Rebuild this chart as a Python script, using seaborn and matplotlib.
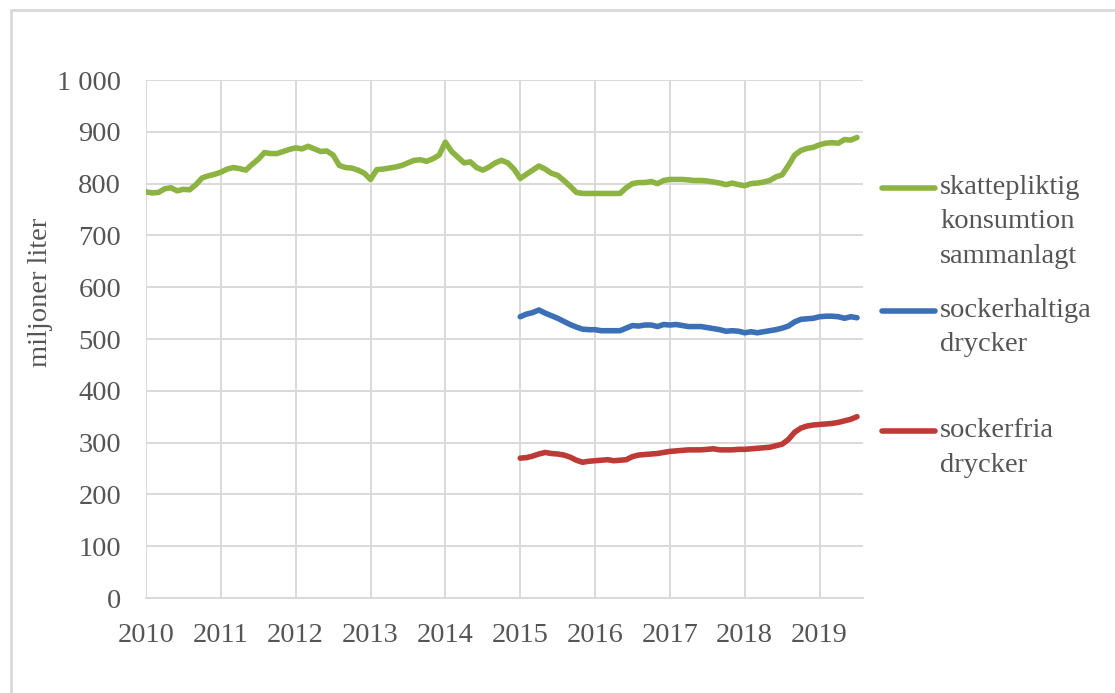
import matplotlib
matplotlib.use("Agg")
import matplotlib.pyplot as plt
from matplotlib.lines import Line2D
import numpy as np
import pandas as pd
import seaborn as sns


# monthly values, million litres
total_2010_2019 = [
    784, 782, 783, 790, 792, 786, 789, 788, 798, 811, 815, 818,
    822, 828, 831, 829, 826, 837, 847, 860, 858, 858, 862, 866,
    869, 867, 872, 867, 862, 863, 855, 835, 831, 830, 826, 820,
    808, 827, 828, 830, 832, 835, 840, 845, 846, 843, 848, 855,
    880, 862, 851, 840, 842, 831, 826, 832, 840, 845, 840, 828,
    810, 818, 826, 834, 828, 820, 816, 806, 795, 783, 781, 781,
    781, 781, 781, 781, 781, 792, 800, 802, 802, 804, 800, 806,
    808, 808, 808, 807, 806, 806, 805, 803, 801, 798, 801, 798,
    796, 800, 801, 803, 806, 813, 817, 835, 855, 864, 868, 870,
    875, 878, 879, 878, 885, 884, 889,
]
sugary_2015_2019 = [
    543, 548, 551, 556, 550, 545, 540, 534, 528, 523, 519, 518,
    518, 516, 516, 516, 516, 521, 526, 525, 527, 527, 524, 528,
    527, 528, 526, 524, 524, 524, 522, 520, 518, 515, 516, 515,
    512, 514, 512, 514, 516, 518, 521, 525, 533, 538, 539, 540,
    543, 544, 544, 543, 540, 543, 541,
]
sugarfree_2015_2019 = [
    270, 271, 274, 278, 281, 279, 278, 276, 272, 266, 262, 264,
    265, 266, 267, 265, 266, 267, 273, 276, 277, 278, 279, 281,
    283, 284, 285, 286, 286, 286, 287, 288, 286, 286, 286, 287,
    287, 288, 289, 290, 291, 294, 297, 306, 320, 328, 332, 334,
    335, 336, 337, 339, 342, 345, 350,
]

series_names = ["skattepliktig\nkonsumtion\nsammanlagt",
                "sockerhaltiga\ndrycker",
                "sockerfria\ndrycker"]
series_colors = ["#8DB443", "#3C70B6", "#BE3A36"]
year_ticks = list(range(2010, 2020))
y_ticks = list(range(0, 1001, 100))


def month_axis(start_year, n):
    return start_year + np.arange(n) / 12.0


frames = [
    pd.DataFrame({"t": month_axis(2010, len(total_2010_2019)),
                  "value": total_2010_2019, "serie": series_names[0]}),
    pd.DataFrame({"t": month_axis(2015, len(sugary_2015_2019)),
                  "value": sugary_2015_2019, "serie": series_names[1]}),
    pd.DataFrame({"t": month_axis(2015, len(sugarfree_2015_2019)),
                  "value": sugarfree_2015_2019, "serie": series_names[2]}),
]
df = pd.concat(frames, ignore_index=True)

sns.set_style("white")
plt.rcParams["font.family"] = ["Liberation Serif", "DejaVu Serif"]
text_color = "#555555"
grid_color = "#D9D9D9"

fig = plt.figure(figsize=(11.15, 6.93), dpi=100)
ax = fig.add_axes([146 / 1115, 1 - 598 / 693, (863 - 146) / 1115, (598 - 80) / 693])

sns.lineplot(data=df, x="t", y="value", hue="serie",
             palette=dict(zip(series_names, series_colors)),
             linewidth=4.0, legend=False, ax=ax, zorder=3)

ax.set_xlim(2010, 2019.58)
ax.set_ylim(0, 1000)
ax.set_xticks(year_ticks)
ax.set_xticklabels([str(y) for y in year_ticks])
ax.set_yticks(y_ticks)
ax.set_yticklabels([f"{v:,}".replace(",", " ") for v in y_ticks])
ax.grid(True, color=grid_color, linewidth=1.4)
ax.set_axisbelow(True)
ax.tick_params(axis="both", length=0, labelsize=20.5, labelcolor=text_color)
ax.tick_params(axis="x", pad=18)
ax.tick_params(axis="y", pad=18)
ax.set_xlabel("")
ax.set_ylabel("")
for side in ["top", "right", "left"]:
    ax.spines[side].set_visible(False)
ax.spines["bottom"].set_color(grid_color)
ax.spines["bottom"].set_linewidth(1.4)

fig.text(41 / 1115, 1 - 292 / 693, "miljoner liter", rotation=90,
         ha="center", va="center", fontsize=20.5, color=text_color)

# legend drawn by hand so the line sits next to the first text row
legend_rows = [188, 311, 431]
for name, color, row in zip(series_names, series_colors, legend_rows):
    yy = 1 - row / 693
    fig.add_artist(Line2D([882 / 1115, 935 / 1115], [yy, yy],
                          color=color, linewidth=4.0,
                          transform=fig.transFigure))
    fig.text(940 / 1115, 1 - (row - 13) / 693, name, ha="left", va="top",
             fontsize=20.5, color=text_color, linespacing=1.5)

# thin frame around the picture
fig.add_artist(Line2D([11 / 1115, 1.0], [1 - 10 / 693, 1 - 10 / 693],
                      color=grid_color, linewidth=2, transform=fig.transFigure))
fig.add_artist(Line2D([11 / 1115, 11 / 1115], [0.0, 1 - 10 / 693],
                      color=grid_color, linewidth=2, transform=fig.transFigure))

fig.savefig("out.png", dpi=100, facecolor="white")
